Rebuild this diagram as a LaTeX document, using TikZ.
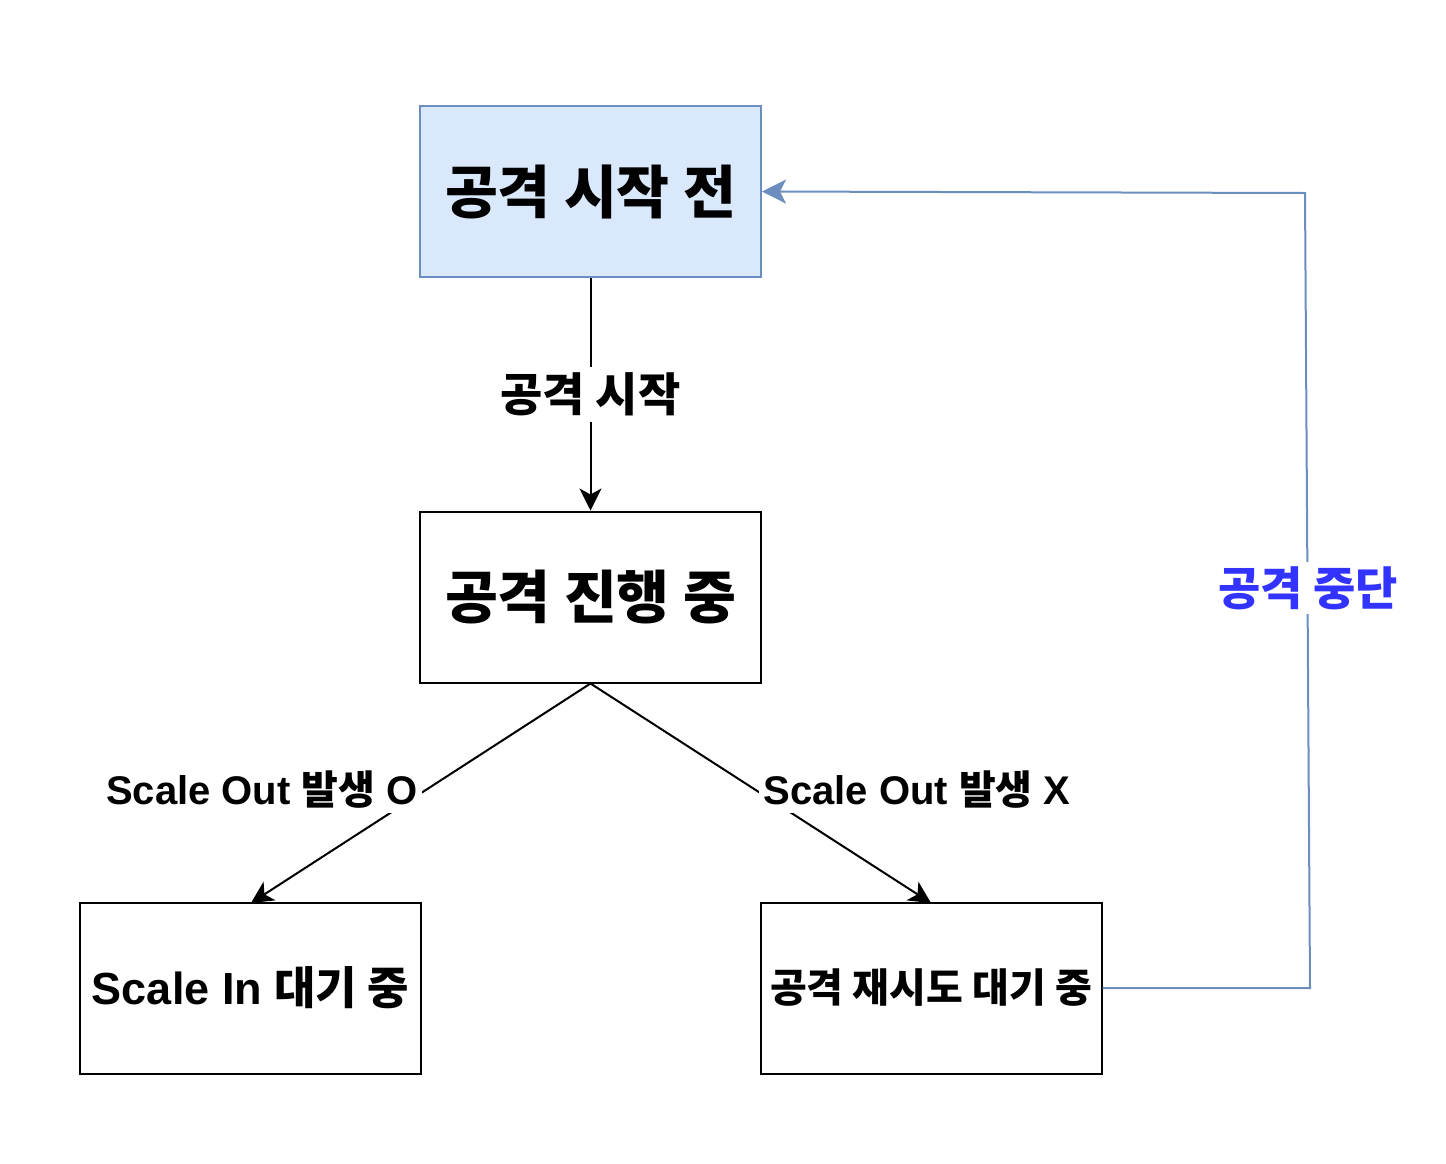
\documentclass[tikz,border=0pt]{standalone}
\usepackage{fontspec}
\setmainfont{Liberation Sans}
\newfontfamily\kr{Noto Sans CJK KR}
\usetikzlibrary{arrows.meta}
\definecolor{boxblue}{HTML}{DAE8FC}
\definecolor{edgeblue}{HTML}{6C8EBF}
\definecolor{lblblue}{HTML}{3333FF}
\tikzset{
  stbox/.style={draw=black, line width=2pt, minimum width=341pt, minimum height=171pt, inner sep=0pt, align=center},
  conn/.style={line width=2pt, draw=black, -{Stealth[length=22pt,width=22pt,inset=6pt]}},
  fbconn/.style={line width=2pt, draw=edgeblue, -{Stealth[length=24pt,width=24pt,inset=6pt]}},
  lbl/.style={fill=white, inner sep=4pt, font=\bfseries\fontsize{40}{44}\selectfont}
}
\begin{document}
\begin{tikzpicture}[x=1pt,y=-1pt]
\useasboundingbox (0,0) rectangle (1446,1163);
\node[stbox, fill=boxblue, draw=edgeblue, font=\kr\bfseries\fontsize{57.5}{60}\selectfont] (top) at (590.5,191.5) {공격 시작 전};
\node[stbox, font=\kr\bfseries\fontsize{57.5}{60}\selectfont] (mid) at (590.5,597) {공격 진행 중};
\node[stbox, font=\bfseries\fontsize{45}{48}\selectfont] (bl) at (250.5,988) {Scale In {\kr 대기 중}};
\node[stbox, font=\kr\bfseries\fontsize{40}{44}\selectfont] (br) at (931,988) {공격 재시도 대기 중};
\coordinate (c1) at (1310,988);
\coordinate (c2) at (1305,193);
\coordinate (ml) at (251,903);
\coordinate (mr) at (931,903);
\draw[conn] (top.south) -- node[lbl, inner sep=6pt, font=\kr\bfseries\fontsize{46}{48}\selectfont]{공격 시작} (mid.north);
\draw[conn] (mid.south) -- (ml);
\draw[conn] (mid.south) -- (mr);
\draw[fbconn] (br.east) -- (c1) -- (c2) -- (top.east);
\node[lbl] (l1) at (262,790) {Scale Out {\kr 발생} O};
\node[lbl] (l2) at (917,790) {Scale Out {\kr 발생} X};
\node[lbl, text=lblblue, font=\kr\bfseries\fontsize{46}{48}\selectfont] (l3) at (1308,588) {공격 중단};
\end{tikzpicture}
\end{document}
